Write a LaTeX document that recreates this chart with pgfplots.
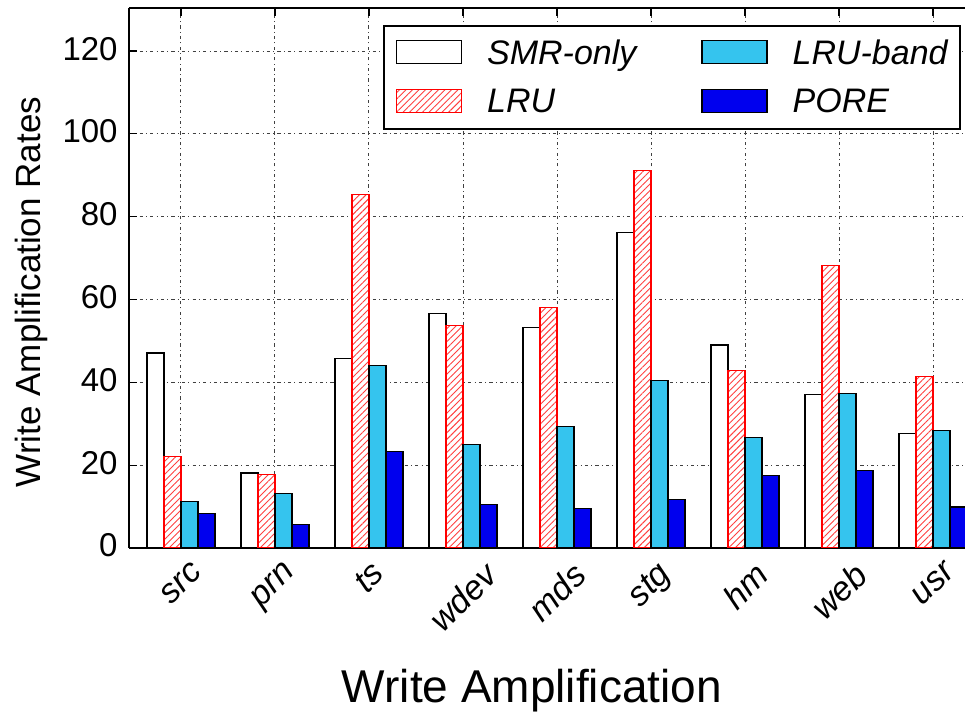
\documentclass[border=0pt]{standalone}
\usepackage{pgfplots}
\pgfplotsset{compat=1.18}
\usepackage{fontspec}
\setmainfont{Liberation Sans}
\usepackage{graphicx}
\usetikzlibrary{patterns.meta}

\definecolor{lruband}{HTML}{35C4EE}
\definecolor{pore}{HTML}{0000EE}
\definecolor{hatchred}{HTML}{FF4040}

% rotated tick label whose box is the upright bounding box of the rotated text
\newcommand{\rl}[1]{\rotatebox{45}{#1}}

\begin{document}
\begin{tikzpicture}
\begin{axis}[
  at={(0pt,0pt)}, anchor=south west,
  scale only axis, width=418pt, height=270pt,
  ybar=0pt, bar width=8.5pt,
  xmin=-0.553, xmax=8.34, ymin=0, ymax=130.4,
  xtick={0,1,2,3,4,5,6,7,8},
  xticklabels={\rl{src},\rl{prn},\rl{ts},\rl{wdev},\rl{mds},\rl{stg},\rl{hm},\rl{web},\rl{usr}},
  ytick={0,20,40,60,80,100,120},
  axis x line=box, axis y line=left,
  axis line style={-, line width=1pt},
  tick align=inside, major tick length=4pt,
  tick style={black, line width=0.6pt},
  grid=major,
  major grid style={black!75, line width=0.5pt, dash pattern=on 1.6pt off 1.6pt on 0.5pt off 1.6pt},
  xticklabel style={anchor=north, inner sep=0pt, yshift=-6pt, font=\fontsize{17}{20}\selectfont\itshape},
  yticklabel style={anchor=east, inner sep=0pt, xshift=-5.5pt, yshift=1.2pt, font=\fontsize{16.5}{19}\selectfont},
  /pgf/number format/assume math mode=true,
  xlabel={Write Amplification},
  xlabel style={at={(axis description cs:0.482,-0.287)}, anchor=base, font=\fontsize{23}{27}\selectfont},
  ylabel={Write Amplification Rates},
  ylabel style={at={(axis description cs:-0.1053,0.474)}, anchor=base, font=\fontsize{17.5}{20}\selectfont},
  legend columns=2,
  transpose legend,
  legend cell align=left,
  legend style={at={(axis description cs:0.3038,0.9685)}, anchor=north west,
    draw=black, line width=1pt, fill=white,
    inner xsep=6pt, inner ysep=7pt, row sep=11pt,
    font=\fontsize{17}{20}\selectfont\itshape,
    nodes={inner sep=0pt, text height=12.2pt, text depth=1pt},
    /tikz/every odd column/.append style={column sep=12.5pt},
    /tikz/every even column/.append style={column sep=32.5pt}},
  legend image code/.code={\draw[#1, line width=0.6pt] (0pt,-5.25pt) rectangle (32.5pt,6.25pt);},
]
\addplot[draw=black, fill=white, line width=0.6pt] coordinates {
  (0,47.1) (1,18.1) (2,45.7) (3,56.6) (4,53.3) (5,76.2) (6,49.0) (7,37.1) (8,27.6)};
\addplot[draw=red, fill=white, line width=0.6pt,
  postaction={pattern={Lines[angle=45,distance=2.3pt,line width=0.45pt]}, pattern color=hatchred}] coordinates {
  (0,22.1) (1,17.8) (2,85.3) (3,53.7) (4,58.0) (5,91.2) (6,42.8) (7,68.2) (8,41.4)};
\addplot[draw=black, fill=lruband, line width=0.6pt] coordinates {
  (0,11.2) (1,13.1) (2,44.0) (3,24.9) (4,29.3) (5,40.5) (6,26.6) (7,37.4) (8,28.3)};
\addplot[draw=black, fill=pore, line width=0.6pt] coordinates {
  (0,8.3) (1,5.6) (2,23.3) (3,10.5) (4,9.5) (5,11.8) (6,17.5) (7,18.7) (8,9.9)};
\legend{SMR-only,LRU,LRU-band,PORE}
\end{axis}
\pgfresetboundingbox
\path[use as bounding box] (-64.5pt,-84.5pt) rectangle (418pt,274pt);
\end{tikzpicture}
\end{document}
